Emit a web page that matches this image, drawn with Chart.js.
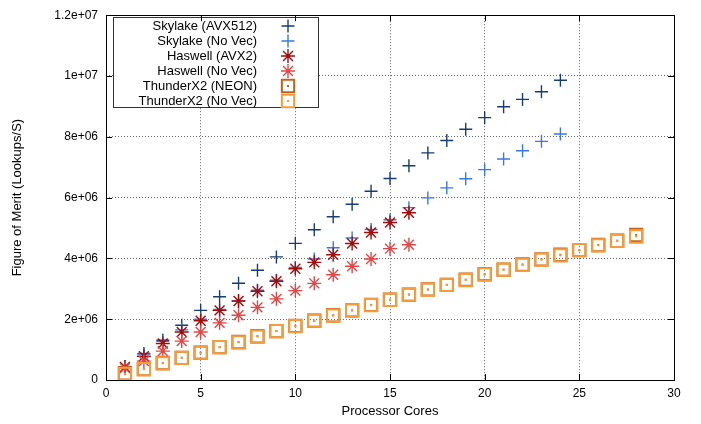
<!DOCTYPE html>
<html>
<head>
<meta charset="utf-8">
<title>Figure of Merit vs Processor Cores</title>
<script src="https://cdn.jsdelivr.net/npm/chart.js@4.4.1/dist/chart.umd.min.js"></script>
<style>
  body { margin: 0; background: #fff; }
  #wrap { width: 701px; height: 424px; }
</style>
</head>
<body>
<div id="wrap"><canvas id="myChart" width="701" height="424"></canvas></div>
<script>
// dados
const coresSkylake = [1, 2, 3, 4, 5, 6, 7, 8, 9, 10, 11, 12, 13, 14, 15, 16, 17, 18, 19, 20, 21, 22, 23, 24];
const coresHaswell = [1, 2, 3, 4, 5, 6, 7, 8, 9, 10, 11, 12, 13, 14, 15, 16];
const coresThunder = [1, 2, 3, 4, 5, 6, 7, 8, 9, 10, 11, 12, 13, 14, 15, 16, 17, 18, 19, 20, 21, 22, 23, 24, 25, 26, 27, 28];

const skylakeAvx512 = [435000, 873000, 1310000, 1800000, 2290000, 2740000, 3185000, 3610000, 4050000, 4495000,
    4940000, 5370000, 5780000, 6210000, 6630000, 7050000, 7470000, 7880000, 8250000, 8630000,
    8990000, 9230000, 9480000, 9860000];
const skylakeNoVec = [440000, 850000, 1270000, 1650000, 2000000, 2320000, 2600000, 2950000, 3280000, 3700000,
    3980000, 4350000, 4670000, 4950000, 5270000, 5670000, 5990000, 6320000, 6620000, 6920000,
    7270000, 7540000, 7850000, 8090000];
const haswellAvx2 = [430000, 780000, 1200000, 1580000, 1950000, 2290000, 2600000, 2920000, 3250000, 3660000,
    3870000, 4120000, 4490000, 4850000, 5180000, 5500000];
const haswellNoVec = [390000, 620000, 950000, 1280000, 1580000, 1880000, 2130000, 2390000, 2670000, 2940000,
    3180000, 3460000, 3740000, 3980000, 4320000, 4450000];
const thunderNeon = [220000, 360000, 560000, 730000, 900000, 1080000, 1250000, 1440000, 1610000, 1780000,
    1950000, 2130000, 2290000, 2470000, 2640000, 2810000, 2980000, 3130000, 3300000, 3480000,
    3630000, 3800000, 3970000, 4120000, 4270000, 4440000, 4580000, 4770000];
const thunderNoVec = [200000, 360000, 550000, 730000, 900000, 1080000, 1240000, 1430000, 1610000, 1770000,
    1950000, 2120000, 2290000, 2460000, 2640000, 2810000, 2970000, 3130000, 3290000, 3470000,
    3630000, 3790000, 3960000, 4100000, 4270000, 4430000, 4580000, 4720000];

const seriesNames = ["Skylake (AVX512)", "Skylake (No Vec)", "Haswell (AVX2)", "Haswell (No Vec)", "ThunderX2 (NEON)", "ThunderX2 (No Vec)"];
const xTickValues = [0, 5, 10, 15, 20, 25, 30];
const yTickLabels = ["0", "2e+06", "4e+06", "6e+06", "8e+06", "1e+07", "1.2e+07"];

Chart.defaults.font.family = "'Liberation Sans', Arial, sans-serif";
Chart.defaults.font.size = 12;
Chart.defaults.color = "#000";

function toPoints(xs, ys) {
    return xs.map((x, i) => ({ x: x, y: ys[i] }));
}

function makeSet(i, xs, ys, color, style, radius, width, dot) {
    return {
        label: seriesNames[i],
        data: toPoints(xs, ys),
        showLine: false,
        pointStyle: style,
        pointRadius: radius,
        pointHoverRadius: radius,
        pointBorderWidth: width,
        pointBorderColor: color,
        pointBackgroundColor: "rgba(0,0,0,0)",
        centerDot: dot,
        order: 5 - i
    };
}

const datasets = [
    makeSet(0, coresSkylake, skylakeAvx512, "#163d6e", "cross", 6.5, 1.4, false),
    makeSet(1, coresSkylake, skylakeNoVec, "#3b78dd", "cross", 6.5, 1.4, false),
    makeSet(2, coresHaswell, haswellAvx2, "#a00d0d", "star", 7, 1.4, false),
    makeSet(3, coresHaswell, haswellNoVec, "#e04848", "star", 7, 1.4, false),
    makeSet(4, coresThunder, thunderNeon, "#c4621a", "rect", 8.7, 2, true),
    makeSet(5, coresThunder, thunderNoVec, "#f59c3c", "rect", 8.7, 2, true)
];

// moldura, ticks internos e legenda no estilo gnuplot
const gnuplotLook = {
    id: "gnuplotLook",
    afterDatasetsDraw(chart) {
        const ctx = chart.ctx;
        const area = chart.chartArea;
        const xs = chart.scales.x;
        const ys = chart.scales.y;

        ctx.save();
        chart.data.datasets.forEach((ds, i) => {
            if (!ds.centerDot) return;
            ctx.fillStyle = ds.pointBorderColor;
            chart.getDatasetMeta(i).data.forEach(pt => {
                ctx.fillRect(pt.x - 1, pt.y - 1, 2, 2);
            });
        });

        // legenda
        const box = { left: 113.5, top: 17.5, right: 318.5, bottom: 107.5 };
        ctx.fillStyle = "#fff";
        ctx.fillRect(box.left, box.top, box.right - box.left, box.bottom - box.top);
        ctx.strokeStyle = "#333";
        ctx.lineWidth = 1;
        ctx.strokeRect(box.left, box.top, box.right - box.left, box.bottom - box.top);
        ctx.font = "13px 'Liberation Sans', Arial, sans-serif";
        ctx.textAlign = "right";
        ctx.textBaseline = "middle";
        chart.data.datasets.forEach((ds, i) => {
            const y = 26 + i * 15;
            ctx.fillStyle = "#000";
            ctx.fillText(ds.label, 257, y);
            ctx.strokeStyle = ds.pointBorderColor;
            ctx.fillStyle = "rgba(0,0,0,0)";
            ctx.lineWidth = ds.pointBorderWidth;
            Chart.helpers.drawPoint(ctx, {
                pointStyle: ds.pointStyle,
                radius: ds.pointRadius,
                rotation: 0,
                borderWidth: ds.pointBorderWidth
            }, 288, y);
            if (ds.centerDot) {
                ctx.fillStyle = ds.pointBorderColor;
                ctx.fillRect(287, y - 1, 2, 2);
            }
        });

        // moldura
        ctx.strokeStyle = "#000";
        ctx.lineWidth = 1;
        ctx.strokeRect(Math.round(area.left) + 0.5, Math.round(area.top) + 0.5,
            Math.round(area.right - area.left), Math.round(area.bottom - area.top));
        ctx.beginPath();
        xs.ticks.forEach(t => {
            const px = Math.round(xs.getPixelForValue(t.value)) + 0.5;
            ctx.moveTo(px, area.bottom);
            ctx.lineTo(px, area.bottom - 6);
            ctx.moveTo(px, area.top);
            ctx.lineTo(px, area.top + 6);
        });
        ys.ticks.forEach(t => {
            const py = Math.round(ys.getPixelForValue(t.value)) + 0.5;
            ctx.moveTo(area.left, py);
            ctx.lineTo(area.left + 6, py);
            ctx.moveTo(area.right, py);
            ctx.lineTo(area.right - 6, py);
        });
        ctx.stroke();
        ctx.restore();
    }
};

function gridColor(c) {
    const v = c.tick.value;
    if (c.scale.axis === "x" && (v === 0 || v === 30)) return "rgba(0,0,0,0)";
    if (c.scale.axis === "y" && (v === 0 || v === 12000000)) return "rgba(0,0,0,0)";
    return "#666";
}

const ctx = document.getElementById("myChart").getContext("2d");
const chart = new Chart(ctx, {
    type: "scatter",
    data: { datasets: datasets },
    options: {
        responsive: false,
        animation: false,
        events: [],
        layout: { padding: { left: 0, right: 27, top: 13, bottom: 0 } },
        plugins: {
            legend: { display: false },
            tooltip: { enabled: false }
        },
        scales: {
            x: {
                type: "linear",
                min: 0,
                max: 30,
                afterFit: s => { s.height = 44; },
                afterBuildTicks: s => { s.ticks = xTickValues.map(v => ({ value: v })); },
                ticks: { padding: 6, maxRotation: 0, autoSkip: false },
                grid: { drawTicks: false, color: gridColor, lineWidth: 1 },
                border: { display: false, dash: [1, 2] },
                title: { display: true, text: "Processor Cores", font: { size: 13 }, padding: { top: 0, bottom: 5 } }
            },
            y: {
                type: "linear",
                min: 0,
                max: 12000000,
                afterFit: s => { s.width = 106; },
                ticks: {
                    stepSize: 2000000,
                    padding: 8,
                    callback: (value, index) => yTickLabels[index]
                },
                grid: { drawTicks: false, color: gridColor, lineWidth: 1 },
                border: { display: false, dash: [1, 2] },
                title: { display: true, text: "Figure of Merit (Lookups/S)", font: { size: 13 }, padding: { top: 10, bottom: 0 } }
            }
        }
    },
    plugins: [gnuplotLook]
});
</script>
</body>
</html>
